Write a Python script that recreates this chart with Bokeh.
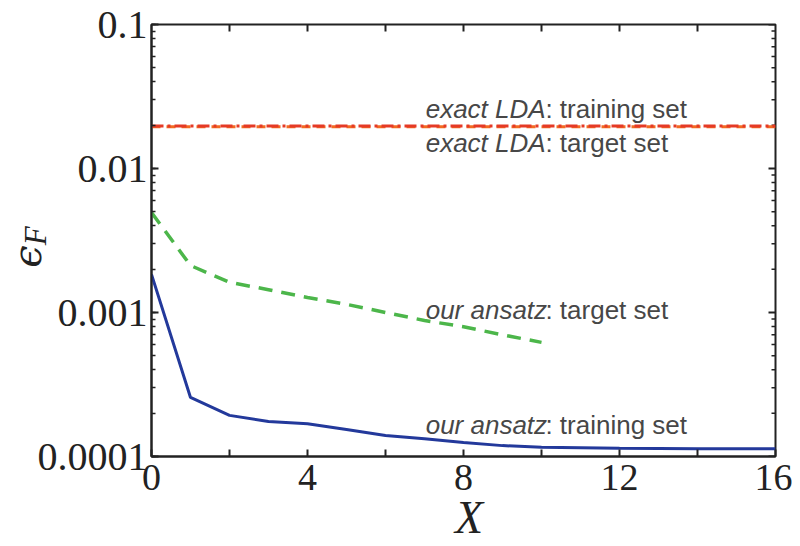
from bokeh.plotting import figure
from bokeh.layouts import column
from bokeh.models import (Range1d, FixedTicker, LogTicker, CustomJSTickFormatter, Label, Div)
from bokeh.embed import file_html
from bokeh.resources import INLINE

# ---- data ----
x_train = [0, 1, 2, 3, 4, 5, 6, 7, 8, 9, 10, 11, 12, 13, 14, 15, 16]
ansatz_train = [1.84e-3, 2.57e-4, 1.93e-4, 1.75e-4, 1.69e-4, 1.54e-4, 1.40e-4, 1.33e-4,
                1.25e-4, 1.19e-4, 1.16e-4, 1.15e-4, 1.14e-4, 1.135e-4, 1.13e-4, 1.13e-4, 1.13e-4]
x_target = [0, 1, 2, 3, 4, 5, 6, 7, 8, 9, 10]
ansatz_target = [4.95e-3, 2.12e-3, 1.62e-3, 1.44e-3, 1.27e-3, 1.14e-3, 1.0e-3,
                 8.8e-4, 7.96e-4, 7.0e-4, 6.2e-4]
x_lda = [0, 16]
lda_train = [0.0197, 0.0197]
lda_target = [0.0195, 0.0195]
x_ticks = [0, 4, 8, 12, 16]
x_minor = [2, 6, 10, 14]
x_top_ticks = [2, 4, 6, 8, 10, 12, 14]
y_decades = [1e-4, 1e-3, 1e-2, 1e-1]
y_minor_mult = [2, 3, 4, 5, 6, 7, 8, 9]

SERIF = "Liberation Serif"
SANS = "Liberation Sans"
INK = "#222222"

XMIN, XMAX, YMIN, YMAX = 0, 16, 1e-4, 0.1
FRAME_W, FRAME_H = 624, 432

p = figure(width=792, height=546, y_axis_type="log",
           x_range=Range1d(XMIN, XMAX), y_range=Range1d(YMIN, YMAX),
           output_backend="svg", toolbar_location=None,
           min_border_left=151, min_border_right=17,
           min_border_top=24, min_border_bottom=90)
p.grid.visible = False
p.outline_line_color = INK
p.outline_line_width = 2
p.background_fill_color = "white"
p.border_fill_color = "white"

xa = p.xaxis[0]
xa.ticker = FixedTicker(ticks=x_ticks, minor_ticks=x_minor)
ya = p.yaxis[0]
ya.ticker = LogTicker(num_minor_ticks=10)
ya.formatter = CustomJSTickFormatter(code="return tick.toPrecision(1);")

for ax in (xa, ya):
    ax.axis_line_width = 2
    ax.axis_line_color = INK
    ax.major_tick_in = 7
    ax.major_tick_out = 0
    ax.major_tick_line_width = 2
    ax.major_tick_line_color = INK
    ax.minor_tick_in = 4
    ax.minor_tick_out = 0
    ax.minor_tick_line_width = 1.5
    ax.minor_tick_line_color = INK
    ax.major_label_text_font = SERIF
    ax.major_label_text_color = INK

xa.minor_tick_in = 7
xa.minor_tick_line_width = 2
xa.major_label_text_font_size = "38px"
xa.major_label_standoff = 8

ya.major_label_text_font_size = "40px"
ya.major_label_standoff = 4

# mirrored tick marks on the right and top edges
px_per_x = FRAME_W / (XMAX - XMIN)
px_per_dec = FRAME_H / 3.0
maj_dx = 7 / px_per_x
min_dx = 4 / px_per_x
ry_maj = y_decades
ry_min = [m * d for d in y_decades[:-1] for m in y_minor_mult]
p.segment(x0=[XMAX] * len(ry_maj), y0=ry_maj, x1=[XMAX - maj_dx] * len(ry_maj), y1=ry_maj,
          line_color=INK, line_width=2)
p.segment(x0=[XMAX] * len(ry_min), y0=ry_min, x1=[XMAX - min_dx] * len(ry_min), y1=ry_min,
          line_color=INK, line_width=1.5)
top_in = YMAX / (10 ** (7 / px_per_dec))
p.segment(x0=x_top_ticks, y0=[YMAX] * len(x_top_ticks), x1=x_top_ticks,
          y1=[top_in] * len(x_top_ticks), line_color=INK, line_width=2)

# lines
p.line(x_lda, lda_target, line_color="#f26b22", line_width=3, line_dash="9 6")
p.line(x_lda, lda_train, line_color="#e53a26", line_width=3, line_dash="12 4 3 4")
p.line(x_target, ansatz_target, line_color="#4cb64a", line_width=3.5, line_dash="14 9")
p.line(x_train, ansatz_train, line_color="#23399b", line_width=3)

# annotations
def note(xi, yi, text, italic):
    p.add_layout(Label(x=xi, y=yi, text=text, text_font=SANS,
                       text_font_size="26px", text_color="#474747",
                       text_font_style="italic" if italic else "normal",
                       text_baseline="alphabetic", text_align="left"))

note(7.03, 0.02569, "exact LDA", True)
note(10.10, 0.02569, ": training set", False)
note(7.03, 0.01492, "exact LDA", True)
note(10.10, 0.01492, ": target set", False)
note(7.03, 1.048e-3, "our ansatz", True)
note(10.10, 1.048e-3, ": target set", False)
note(7.03, 1.643e-4, "our ansatz", True)
note(10.10, 1.643e-4, ": training set", False)

# y-axis label: epsilon with subscript F, rotated, overlaid at the left edge
ylab = Div(
    text=("<span style=\"font-family:'DejaVu Serif';font-style:italic;font-size:40px;"
          "color:#222222\">ϵ</span><span style=\"font-family:'Liberation Serif';"
          "font-style:italic;font-size:31px;color:#222222;position:relative;top:5px\">F</span>"),
    width=60, height=60,
    styles={"position": "absolute", "left": "-8px", "top": "212px",
            "transform": "rotate(-90deg)", "transform-origin": "50% 50%",
            "line-height": "60px", "text-align": "center", "white-space": "nowrap",
            "z-index": "10"})

# x-axis label, overlaid below the tick labels
xlab = Div(
    text=("<span style=\"font-family:'Liberation Serif';font-style:italic;font-size:46px;"
          "color:#222222\">X</span>"),
    width=60, height=40,
    styles={"position": "absolute", "left": "434px", "top": "493px",
            "line-height": "40px", "text-align": "center", "white-space": "nowrap",
            "z-index": "10"})

page = column(p, ylab, xlab, spacing=0)

open("out.html", "w").write(file_html(page, INLINE))
